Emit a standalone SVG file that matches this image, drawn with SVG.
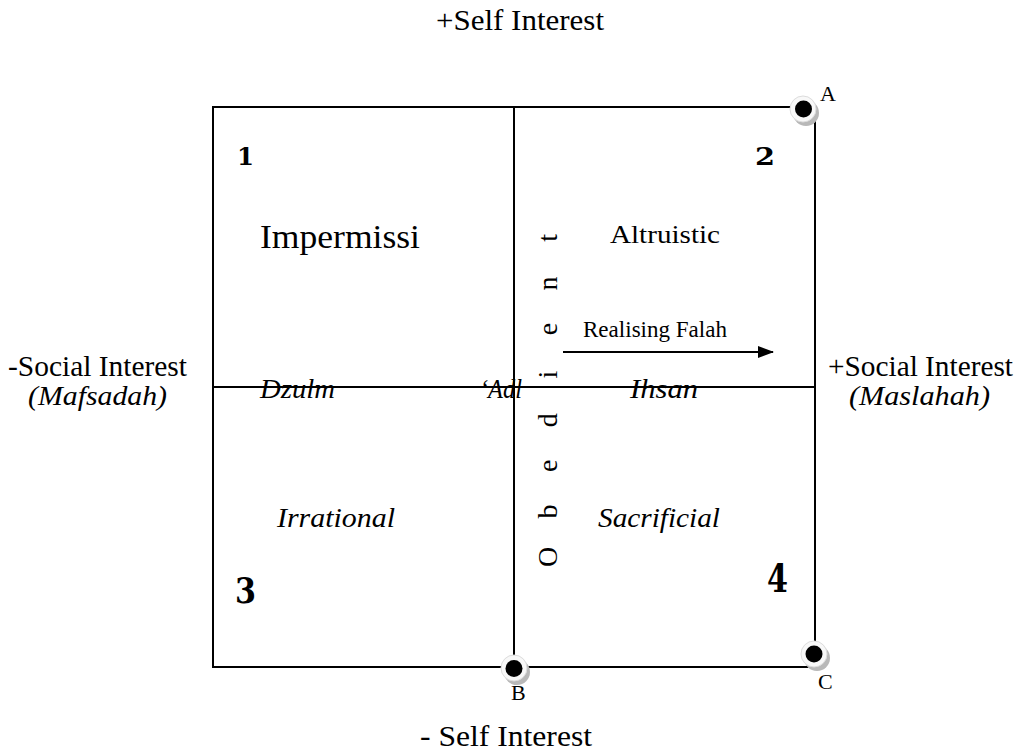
<svg xmlns="http://www.w3.org/2000/svg" width="1016" height="752" viewBox="0 0 1016 752">
<style>
text { font-family: "Liberation Serif", "Times New Roman", serif; fill: #000; }
.ax { font-size: 29px; }
.it { font-style: italic; font-size: 28px; }
.num { font-family: "DejaVu Serif", "Liberation Serif", serif; font-weight: bold; }
.ln { stroke: #000; stroke-width: 2; fill: none; }
.shadow { fill: #b8b8b8; }
.ring { fill: #f8f8f8; stroke: #dcdcdc; stroke-width: 1; }
.dot { fill: #000; }
.lbl { font-size: 22px; }
</style>
<defs>
<marker id="arr" markerWidth="16" markerHeight="12" refX="15" refY="6" orient="auto" markerUnits="userSpaceOnUse">
<path d="M0,0 L16,6 L0,12 Z" fill="#000"/>
</marker>
</defs>
<rect width="1016" height="752" fill="#fff"/>

<g id="grid">
<rect class="ln" x="213" y="107" width="602" height="560"/>
<line class="ln" x1="514" y1="107" x2="514" y2="667"/>
<line class="ln" x1="213" y1="387" x2="815" y2="387"/>
</g>

<g id="axis-labels">
<text class="ax" x="520" y="30" text-anchor="middle" textLength="168" lengthAdjust="spacingAndGlyphs">+Self Interest</text>
<text class="ax" x="506" y="746" text-anchor="middle" textLength="172" lengthAdjust="spacingAndGlyphs">- Self Interest</text>
<text class="ax" x="8" y="376" textLength="179" lengthAdjust="spacingAndGlyphs">-Social Interest</text>
<text class="it" x="28" y="405" textLength="139" lengthAdjust="spacingAndGlyphs">(Mafsadah)</text>
<text class="ax" x="828" y="376" textLength="185" lengthAdjust="spacingAndGlyphs">+Social Interest</text>
<text class="it" x="849" y="405" textLength="141" lengthAdjust="spacingAndGlyphs">(Maslahah)</text>
</g>

<g id="quadrant-1">
<text class="num" x="237" y="165" font-size="24" textLength="17" lengthAdjust="spacingAndGlyphs">1</text>
<text x="260" y="248" font-size="33" textLength="160" lengthAdjust="spacingAndGlyphs">Impermissi</text>
</g>
<g id="quadrant-2">
<text class="num" x="755" y="165" font-size="24" textLength="20" lengthAdjust="spacingAndGlyphs">2</text>
<text x="610" y="243" font-size="26" textLength="110" lengthAdjust="spacingAndGlyphs">Altruistic</text>
<text x="583" y="337" font-size="23" textLength="144" lengthAdjust="spacingAndGlyphs">Realising Falah</text>
</g>
<g id="quadrant-3">
<text class="num" x="235" y="603" font-size="36" textLength="21" lengthAdjust="spacingAndGlyphs">3</text>
<text class="it" x="277" y="527" textLength="118" lengthAdjust="spacingAndGlyphs">Irrational</text>
</g>
<g id="quadrant-4">
<text class="num" x="767" y="592" font-size="40" textLength="21" lengthAdjust="spacingAndGlyphs">4</text>
<text class="it" x="598" y="527" textLength="122" lengthAdjust="spacingAndGlyphs">Sacrificial</text>
</g>

<g id="divider-labels">
<text class="it" x="260" y="398" textLength="75" lengthAdjust="spacingAndGlyphs">Dzulm</text>
<text class="it" x="480" y="398" textLength="42" lengthAdjust="spacingAndGlyphs">&#8216;Adl</text>
<text class="it" x="630" y="398" textLength="68" lengthAdjust="spacingAndGlyphs">Ihsan</text>
</g>

<g id="obedient">
<text transform="rotate(-90)" y="557" font-size="28" text-anchor="middle" x="-557 -511.4 -465.8 -420.2 -374.6 -329 -283.4 -237.8">Obedient</text>
</g>

<g id="connectors">
<line class="ln" x1="563" y1="352" x2="773" y2="352" marker-end="url(#arr)"/>
</g>

<g id="point-A">
<circle class="shadow" cx="806" cy="113" r="13"/>
<circle class="ring" cx="803" cy="109" r="13"/>
<circle class="dot" cx="803.5" cy="109" r="8.5"/>
<text class="lbl" x="820" y="101">A</text>
</g>
<g id="point-B">
<circle class="shadow" cx="517" cy="672" r="13"/>
<circle class="ring" cx="514" cy="668" r="13"/>
<circle class="dot" cx="514" cy="668.5" r="8.5"/>
<text class="lbl" x="511" y="700">B</text>
</g>
<g id="point-C">
<circle class="shadow" cx="817" cy="658" r="13"/>
<circle class="ring" cx="814" cy="654" r="13"/>
<circle class="dot" cx="814" cy="654" r="8.5"/>
<text class="lbl" x="818" y="689">C</text>
</g>
</svg>
